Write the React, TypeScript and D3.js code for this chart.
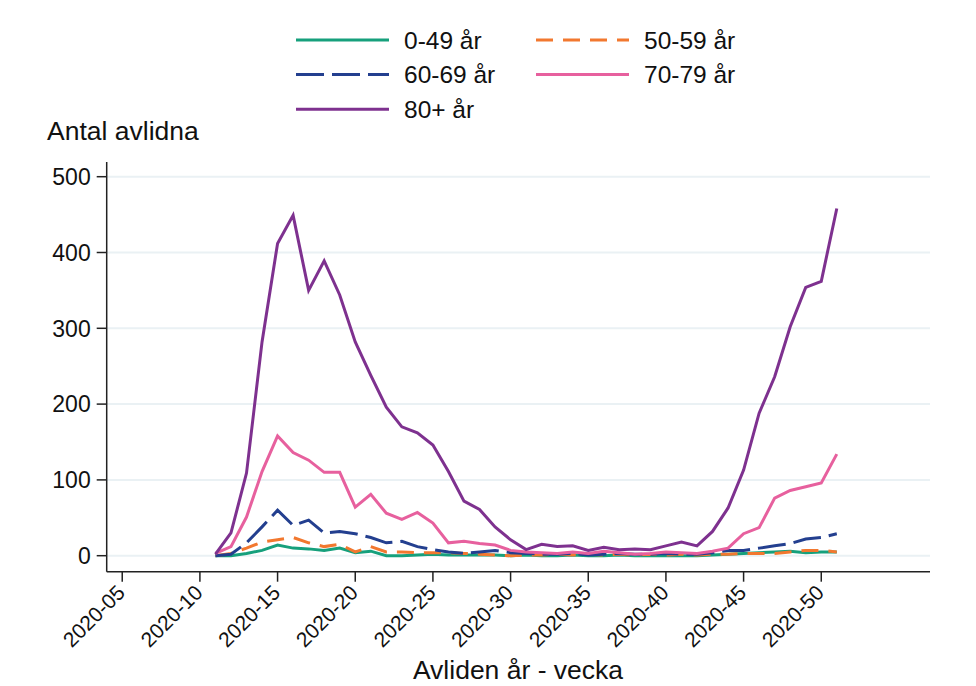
import React from "react";
import * as d3 from "d3";

const W = 976;
const H = 686;

// weeks 2020-11 .. 2020-51
const weeks = d3.range(11, 52);
const xTickWeeks = [5, 10, 15, 20, 25, 30, 35, 40, 45, 50];
const yTicks = [0, 100, 200, 300, 400, 500];

const age0_49 = [0, 0, 3, 7, 14, 10, 9, 7, 10, 4, 6, 0, 0, 1, 2, 1, 1, 1, 1, 0, 1, 0, 0, 1, 0, 0, 1, 0, 0, 0, 0, 0, 1, 2, 3, 4, 5, 6, 4, 5, 5];
const age50_59 = [0, 3, 10, 18, 21, 24, 17, 12, 15, 5, 12, 5, 5, 4, 4, 4, 3, 2, 1, 0, 1, 1, 2, 1, 2, 1, 2, 1, 2, 1, 2, 1, 2, 2, 3, 3, 3, 5, 7, 7, 5];
const age60_69 = [0, 2, 17, 38, 60, 40, 47, 30, 32, 29, 24, 17, 19, 12, 8, 5, 3, 5, 7, 4, 3, 2, 2, 3, 1, 2, 3, 2, 2, 3, 2, 2, 4, 7, 7, 10, 13, 16, 22, 24, 29];
const age70_79 = [3, 12, 51, 111, 158, 136, 126, 110, 110, 64, 81, 56, 48, 57, 43, 17, 19, 16, 14, 7, 5, 4, 3, 5, 3, 6, 4, 2, 3, 5, 4, 3, 6, 10, 29, 37, 76, 86, 91, 96, 134];
const age80 = [2, 30, 109, 282, 412, 449, 350, 389, 344, 282, 238, 196, 170, 162, 146, 111, 72, 61, 38, 21, 8, 15, 12, 13, 7, 11, 8, 9, 8, 13, 18, 13, 32, 63, 113, 188, 236, 302, 354, 362, 458];

const series = [
  { name: "0-49 år", values: age0_49, color: "#16a07c", dash: null },
  { name: "50-59 år", values: age50_59, color: "#f2782f", dash: "17 10" },
  { name: "60-69 år", values: age60_69, color: "#233f8f", dash: "28 8" },
  { name: "70-79 år", values: age70_79, color: "#e7609e", dash: null },
  { name: "80+ år", values: age80, color: "#7e318f", dash: null },
];

// legend placement: column, row
const legendPos = [
  [0, 0],
  [1, 0],
  [0, 1],
  [1, 1],
  [0, 2],
];

const x = d3.scaleLinear().domain([4, 57]).range([106.7, 930]);
const y = d3.scaleLinear().domain([0, 500]).range([555.7, 176.7]);
const axisY = 571.7;
const axisTop = 162;

const font = "'Liberation Sans', Arial, sans-serif";

export default function App() {
  const line = d3
    .line<number>()
    .x((_, i) => x(weeks[i]))
    .y((d) => y(d));

  return (
    <div style={{ position: "absolute", left: 0, top: 0 }}>
      <svg width={W} height={H} style={{ display: "block", background: "#fff" }} fontFamily={font}>
        {/* grid */}
        {yTicks.map((t) => (
          <line key={t} x1={x(4)} x2={x(57)} y1={y(t)} y2={y(t)} stroke="#eaf1f4" strokeWidth={2} />
        ))}

        {/* series */}
        {series.map((s) => (
          <path
            key={s.name}
            d={line(s.values) ?? ""}
            fill="none"
            stroke={s.color}
            strokeWidth={3}
            strokeDasharray={s.dash ?? undefined}
            strokeLinejoin="miter"
          />
        ))}

        {/* y axis */}
        <line x1={x(4)} x2={x(4)} y1={axisTop} y2={axisY} stroke="#222" strokeWidth={1.5} />
        {yTicks.map((t) => (
          <g key={t}>
            <line x1={x(4) - 10} x2={x(4)} y1={y(t)} y2={y(t)} stroke="#222" strokeWidth={1.5} />
            <text x={x(4) - 16} y={y(t)} dy="0.36em" textAnchor="end" fontSize={23} fill="#111">
              {t}
            </text>
          </g>
        ))}

        {/* x axis */}
        <line x1={x(4)} x2={x(57)} y1={axisY} y2={axisY} stroke="#222" strokeWidth={1.5} />
        {xTickWeeks.map((w) => (
          <g key={w}>
            <line x1={x(w)} x2={x(w)} y1={axisY} y2={axisY + 10} stroke="#222" strokeWidth={1.5} />
            <text
              transform={`translate(${x(w) + 4},594) rotate(-45)`}
              textAnchor="end"
              fontSize={21}
              fill="#111"
            >
              {`2020-${String(w).padStart(2, "0")}`}
            </text>
          </g>
        ))}

        {/* titles */}
        <text x={47} y={140} fontSize={26.5} fill="#111">
          Antal avlidna
        </text>
        <text x={518} y={679} textAnchor="middle" fontSize={26.5} fill="#111">
          Avliden år - vecka
        </text>

        {/* legend */}
        {series.map((s, i) => {
          const [c, r] = legendPos[i];
          const lx = 296 + c * 240;
          const ly = 40 + r * 34.6;
          return (
            <g key={s.name}>
              <line
                x1={lx}
                x2={lx + 93}
                y1={ly}
                y2={ly}
                stroke={s.color}
                strokeWidth={3}
                strokeDasharray={s.dash ?? undefined}
              />
              <text x={lx + 108} y={ly} dy="0.36em" fontSize={24.5} fill="#111">
                {s.name}
              </text>
            </g>
          );
        })}
      </svg>
    </div>
  );
}
